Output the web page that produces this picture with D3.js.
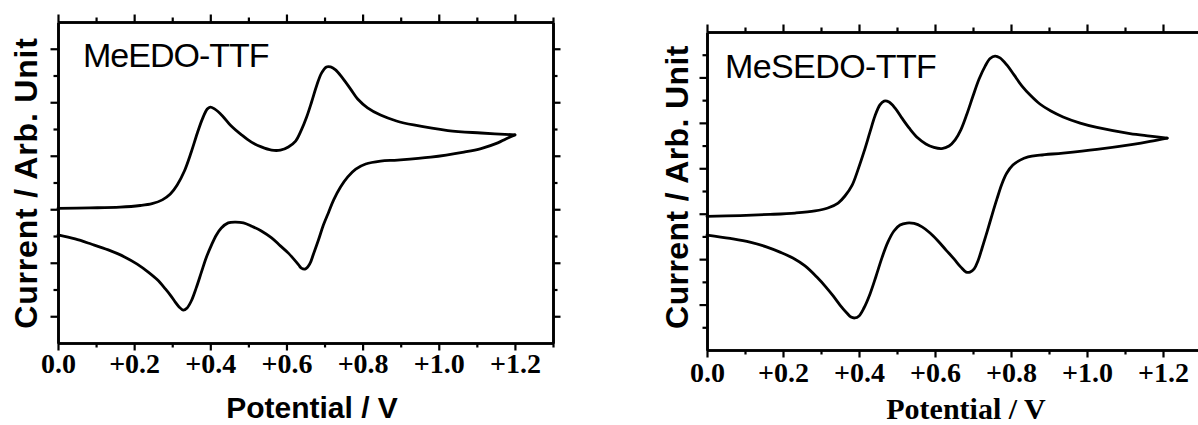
<!DOCTYPE html>
<html><head><meta charset="utf-8">
<script src="https://cdn.jsdelivr.net/npm/d3@7"></script>
<style>body{margin:0;background:#fff;} svg{display:block;background:#fff;}</style>
</head><body>
<svg id="chart" width="1198" height="425"></svg>
<script>
// ---- data (potential in V, current in arbitrary units) ----
const potentialMajorTicks = [0, 0.2, 0.4, 0.6, 0.8, 1.0, 1.2];
const potentialTickLabels = ["0.0", "+0.2", "+0.4", "+0.6", "+0.8", "+1.0", "+1.2"];
const potentialMinorTicks = [0.1, 0.3, 0.5, 0.7, 0.9, 1.1, 1.3];

const compoundNames = ["MeEDO-TTF", "MeSEDO-TTF"];

const meedoForward = [
  [0.000,5.03],[0.084,5.05],[0.163,5.08],[0.216,5.14],[0.247,5.21],[0.274,5.35],
  [0.295,5.57],[0.313,5.91],[0.332,6.43],[0.350,7.14],[0.366,7.85],[0.379,8.37],
  [0.392,8.75],[0.400,8.82],[0.411,8.75],[0.432,8.49],[0.455,8.11],[0.482,7.78],
  [0.508,7.51],[0.534,7.33],[0.561,7.21],[0.584,7.21],[0.605,7.33],[0.624,7.55],
  [0.639,7.96],[0.653,8.45],[0.666,9.01],[0.679,9.61],[0.692,10.09],[0.705,10.32],
  [0.716,10.32],[0.729,10.21],[0.747,9.91],[0.768,9.50],[0.787,9.12],[0.813,8.79],
  [0.847,8.52],[0.889,8.30],[0.934,8.15],[1.024,7.94],[1.111,7.85],[1.200,7.78]
];
const meedoReverse = [
  [1.200,7.78],[1.176,7.63],[1.155,7.48],[1.111,7.27],[1.066,7.14],[0.979,6.95],
  [0.892,6.84],[0.847,6.80],[0.808,6.69],[0.782,6.50],[0.761,6.21],[0.742,5.83],
  [0.724,5.35],[0.711,4.90],[0.697,4.41],[0.684,3.85],[0.671,3.33],[0.661,2.95],
  [0.650,2.77],[0.639,2.80],[0.632,2.92],[0.605,3.36],[0.584,3.63],[0.561,3.93],
  [0.534,4.19],[0.508,4.37],[0.487,4.49],[0.466,4.52],[0.447,4.49],[0.429,4.30],
  [0.416,4.04],[0.403,3.66],[0.389,3.18],[0.376,2.62],[0.363,2.06],[0.350,1.57],
  [0.339,1.31],[0.329,1.23],[0.318,1.35],[0.308,1.53],[0.295,1.79],[0.282,2.02],
  [0.261,2.36],[0.237,2.65],[0.208,2.95],[0.176,3.21],[0.132,3.48],[0.087,3.70],
  [0.045,3.89],[0.000,4.04]
];
const mesedoForward = [
  [0.000,5.88],[0.087,5.92],[0.166,5.97],[0.232,6.03],[0.284,6.12],[0.318,6.25],
  [0.345,6.47],[0.363,6.78],[0.382,7.26],[0.397,7.92],[0.413,8.72],[0.429,9.60],
  [0.442,10.30],[0.455,10.79],[0.466,10.96],[0.479,10.92],[0.495,10.65],[0.513,10.21],
  [0.534,9.73],[0.555,9.33],[0.576,9.07],[0.597,8.92],[0.618,8.87],[0.637,8.98],
  [0.653,9.25],[0.668,9.69],[0.684,10.39],[0.700,11.18],[0.716,11.93],[0.732,12.50],
  [0.745,12.83],[0.758,12.94],[0.771,12.86],[0.789,12.55],[0.808,12.11],[0.829,11.62],
  [0.853,11.18],[0.876,10.83],[0.905,10.52],[0.937,10.26],[0.982,9.99],[1.026,9.80],
  [1.113,9.53],[1.166,9.42],[1.211,9.33]
];
const mesedoReverse = [
  [1.211,9.33],[1.166,9.18],[1.121,9.05],[1.026,8.83],[0.937,8.67],[0.876,8.58],
  [0.845,8.50],[0.824,8.36],[0.805,8.14],[0.789,7.79],[0.776,7.31],[0.763,6.65],
  [0.750,5.94],[0.737,5.20],[0.724,4.49],[0.713,3.92],[0.703,3.57],[0.692,3.43],
  [0.682,3.43],[0.668,3.65],[0.650,4.01],[0.629,4.40],[0.608,4.80],[0.587,5.15],
  [0.566,5.42],[0.545,5.57],[0.526,5.59],[0.508,5.50],[0.492,5.24],[0.476,4.75],
  [0.461,4.09],[0.445,3.26],[0.429,2.47],[0.413,1.85],[0.400,1.50],[0.389,1.41],
  [0.379,1.45],[0.368,1.63],[0.350,1.98],[0.332,2.38],[0.313,2.77],[0.289,3.21],
  [0.258,3.70],[0.226,4.05],[0.192,4.31],[0.158,4.53],[0.113,4.75],[0.061,4.91],
  [0.000,5.06]
];

const meedoCurrentMajor = [1, 3, 5, 7, 9, 11];
const meedoCurrentMinor = [2, 4, 6, 8, 10];
const mesedoCurrentMajor = [2, 4, 6, 8, 10, 12];
const mesedoCurrentMinor = [1, 3, 5, 7, 9, 11, 13];

const xTitle = "Potential / V";
const yTitle = "Current / Arb. Unit";

// ---- layout ----
const SANS = "'Liberation Sans', Arial, sans-serif";
const SERIF = "'Liberation Serif', 'Times New Roman', serif";

const panels = [
  { name: compoundNames[0], fwd: meedoForward, rev: meedoReverse,
    left: 58, right: 553, top: 22, bottom: 343, yMax: 12,
    yMajor: meedoCurrentMajor, yMinor: meedoCurrentMinor,
    nameX: 83, nameY: 67, nameLS: -1,
    tickLabelY: 30,
    xTitleFont: SANS, xTitleX: 312, xTitleY: 418,
    yTitleX: 37, yTitleY: 183, yTitleLS: 0.8 },
  { name: compoundNames[1], fwd: mesedoForward, rev: mesedoReverse,
    left: 707, right: 1201, top: 32, bottom: 350, yMax: 14,
    yMajor: mesedoCurrentMajor, yMinor: mesedoCurrentMinor,
    nameX: 725, nameY: 78, nameLS: -0.6,
    tickLabelY: 32,
    xTitleFont: SERIF, xTitleX: 966, xTitleY: 419,
    yTitleX: 688, yTitleY: 187, yTitleLS: 0.4 }
];

const svg = d3.select("#chart");

panels.forEach(p => {
  const x = d3.scaleLinear().domain([0, 1.3]).range([p.left, p.right]);
  const y = d3.scaleLinear().domain([0, p.yMax]).range([p.bottom, p.top]);
  const g = svg.append("g");

  const styleAxis = sel => {
    sel.select(".domain").attr("stroke", "#000").attr("stroke-width", 2.6);
    sel.selectAll(".tick line").attr("stroke", "#000").attr("stroke-width", 2.2);
  };

  // bottom
  g.append("g").attr("transform", `translate(0,${p.bottom})`)
    .call(d3.axisBottom(x).tickValues(potentialMinorTicks).tickSize(4.5).tickSizeOuter(0).tickFormat(""))
    .call(styleAxis);
  const bot = g.append("g").attr("transform", `translate(0,${p.bottom})`)
    .call(d3.axisBottom(x).tickValues(potentialMajorTicks).tickSize(7.5).tickSizeOuter(0)
      .tickFormat((d, i) => potentialTickLabels[i]))
    .call(styleAxis);
  bot.selectAll(".tick text")
    .attr("y", p.tickLabelY).attr("dy", null)
    .attr("font-family", SERIF).attr("font-weight", "bold").attr("font-size", 28).attr("fill", "#000");

  // top
  g.append("g").attr("transform", `translate(0,${p.top})`)
    .call(d3.axisTop(x).tickValues(potentialMinorTicks).tickSize(4.5).tickSizeOuter(0).tickFormat(""))
    .call(styleAxis);
  g.append("g").attr("transform", `translate(0,${p.top})`)
    .call(d3.axisTop(x).tickValues(potentialMajorTicks).tickSize(7.5).tickSizeOuter(0).tickFormat(""))
    .call(styleAxis);

  // left
  g.append("g").attr("transform", `translate(${p.left},0)`)
    .call(d3.axisLeft(y).tickValues(p.yMinor).tickSize(4.5).tickSizeOuter(0).tickFormat(""))
    .call(styleAxis);
  g.append("g").attr("transform", `translate(${p.left},0)`)
    .call(d3.axisLeft(y).tickValues(p.yMajor).tickSize(7.5).tickSizeOuter(0).tickFormat(""))
    .call(styleAxis);

  // right
  g.append("g").attr("transform", `translate(${p.right},0)`)
    .call(d3.axisRight(y).tickValues(p.yMinor).tickSize(4.5).tickSizeOuter(0).tickFormat(""))
    .call(styleAxis);
  g.append("g").attr("transform", `translate(${p.right},0)`)
    .call(d3.axisRight(y).tickValues(p.yMajor).tickSize(7.5).tickSizeOuter(0).tickFormat(""))
    .call(styleAxis);

  // curves
  const line = d3.line().x(d => x(d[0])).y(d => y(d[1])).curve(d3.curveCatmullRom.alpha(0.5));
  [p.fwd, p.rev].forEach(series => {
    g.append("path").datum(series)
      .attr("d", line)
      .attr("fill", "none").attr("stroke", "#000")
      .attr("stroke-width", 2.8).attr("stroke-linejoin", "round").attr("stroke-linecap", "round");
  });

  // compound name
  g.append("text").attr("x", p.nameX).attr("y", p.nameY)
    .attr("font-family", SANS).attr("font-size", 34).attr("letter-spacing", p.nameLS)
    .attr("fill", "#000").text(p.name);

  // x title
  g.append("text").attr("x", p.xTitleX).attr("y", p.xTitleY).attr("text-anchor", "middle")
    .attr("font-family", p.xTitleFont).attr("font-weight", "bold").attr("font-size", 30)
    .attr("fill", "#000").text(xTitle);

  // y title
  g.append("text").attr("transform", `translate(${p.yTitleX},${p.yTitleY}) rotate(-90)`)
    .attr("text-anchor", "middle")
    .attr("font-family", SANS).attr("font-weight", "bold").attr("font-size", 32)
    .attr("letter-spacing", p.yTitleLS)
    .attr("fill", "#000").text(yTitle);
});
</script>
</body></html>
